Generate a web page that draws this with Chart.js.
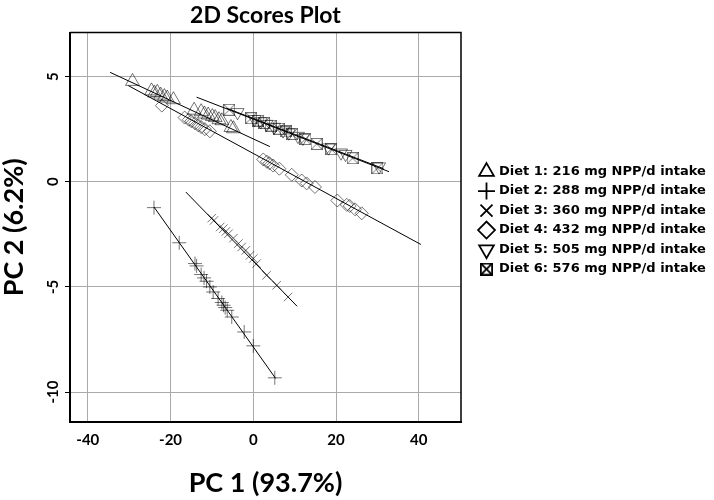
<!DOCTYPE html>
<html>
<head>
<meta charset="utf-8">
<script src="https://cdn.jsdelivr.net/npm/chart.js@4.4.1/dist/chart.umd.min.js"></script>
<style>
  body { margin: 0; background: #fff; }
  #wrap { width: 714px; height: 500px; }
</style>
</head>
<body>
<div id="wrap"><canvas id="grafik" width="714" height="500"></canvas></div>
<script>
// ===== data =====
const dietLabels = [
  "Diet 1: 216 mg NPP/d intake",
  "Diet 2: 288 mg NPP/d intake",
  "Diet 3: 360 mg NPP/d intake",
  "Diet 4: 432 mg NPP/d intake",
  "Diet 5: 505 mg NPP/d intake",
  "Diet 6: 576 mg NPP/d intake"
];

const diet1Pc1 = [-29.2,-24.6,-23.9,-23.2,-22.4,-21.5,-20.8,-19.3,-14.3,-12.6,-11.8,-10.9,-9.9,-9.2,-8.3,-7.6,-5.4,-4.8];
const diet1Pc2 = [4.77,4.32,4.22,4.25,4.12,4.05,3.98,3.90,3.40,3.33,3.22,3.17,3.10,3.05,2.95,2.90,2.58,2.52];

const diet2Pc1 = [-24.0,-17.9,-14.1,-13.7,-12.6,-11.9,-11.3,-10.5,-9.7,-8.5,-7.6,-7.2,-6.8,-6.3,-5.2,-2.2,0.0,5.2];
const diet2Pc2 = [-1.23,-2.90,-3.89,-4.00,-4.41,-4.57,-4.73,-5.00,-5.24,-5.55,-5.74,-5.87,-5.98,-6.11,-6.43,-7.14,-7.80,-9.32];

const diet3Pc1 = [-10.05,-9.5,-8.0,-7.25,-6.6,-6.0,-4.8,-3.6,-2.8,-1.8,-0.8,0.0,0.8,3.2,5.65,8.4];
const diet3Pc2 = [-1.73,-1.84,-2.15,-2.23,-2.36,-2.47,-2.68,-2.94,-3.10,-3.26,-3.50,-3.65,-3.89,-4.45,-4.92,-5.48];

const diet4Pc1 = [-22.1,-16.6,-15.6,-15.0,-14.1,-13.3,-12.6,-11.7,-10.5,2.4,3.3,3.9,4.8,6.3,9.3,11.7,12.9,14.9,20.3,22.6,23.3,24.6,26.2];
const diet4Pc2 = [3.62,3.05,2.95,2.88,2.78,2.68,2.60,2.50,2.40,1.06,0.95,0.88,0.77,0.62,0.33,0.06,-0.08,-0.25,-0.89,-1.10,-1.15,-1.31,-1.50];

const diet5Pc1 = [-3.8,0.3,1.8,3.2,5.0,7.2,8.6,10.8,12.0,18.2,21.2,22.3,30.4];
const diet5Pc2 = [3.30,2.97,2.86,2.74,2.60,2.43,2.33,2.17,2.08,1.62,1.38,1.31,0.72];

const diet6Pc1 = [-5.8,-0.5,1.2,2.6,4.2,6.2,7.8,9.4,12.6,15.3,18.8,24.0,30.0];
const diet6Pc2 = [3.42,3.02,2.91,2.80,2.67,2.52,2.39,2.27,2.03,1.80,1.55,1.12,0.64];

// fitted lines, two end points each
const fitPc1 = [[-34.6, 4.0], [-24.0, 5.4], [-16.3, 10.6], [-30.2, 40.5], [-13.7, 32.8], [-6.5, 31.5]];
const fitPc2 = [[5.2, 1.67], [-1.2, -9.35], [-0.49, -5.92], [4.57, -2.98], [4.02, 0.48], [3.50, 0.62]];

const xTicks = [-40, -20, 0, 20, 40];
const yTicks = [-10, -5, 0, 5];

// ===== helper =====
function zip(xs, ys) {
  return xs.map((x, i) => ({x: x, y: ys[i]}));
}

// boxed cross marker (no built-in style for it)
function boxCross(color, size, lw) {
  const c = document.createElement("canvas");
  c.width = size; c.height = size;
  const g = c.getContext("2d");
  g.strokeStyle = color;
  g.lineWidth = lw;
  const a = lw / 2, b = size - lw / 2;
  g.strokeRect(a, a, b - a, b - a);
  g.beginPath();
  g.moveTo(a, a); g.lineTo(b, b);
  g.moveTo(b, a); g.lineTo(a, b);
  g.stroke();
  return c;
}

const markGrey = "rgba(0,0,0,0.55)";
const boxGrey = boxCross(markGrey, 12, 1);
const boxBlack = boxCross("#000", 13, 1.8);

const styles = [
  {pointStyle: "triangle", radius: 8, rotation: 0},
  {pointStyle: "cross", radius: 7, rotation: 0},
  {pointStyle: "crossRot", radius: 6, rotation: 0},
  {pointStyle: "rectRot", radius: 6.5, rotation: 0},
  {pointStyle: "triangle", radius: 7.5, rotation: 180},
  {pointStyle: boxGrey, radius: 6, rotation: 0}
];

const series = [
  zip(diet1Pc1, diet1Pc2),
  zip(diet2Pc1, diet2Pc2),
  zip(diet3Pc1, diet3Pc2),
  zip(diet4Pc1, diet4Pc2),
  zip(diet5Pc1, diet5Pc2),
  zip(diet6Pc1, diet6Pc2)
];

const datasets = series.map((pts, i) => ({
  label: dietLabels[i],
  data: pts,
  pointStyle: styles[i].pointStyle,
  pointRadius: styles[i].radius,
  pointRotation: styles[i].rotation,
  pointBorderColor: markGrey,
  pointBackgroundColor: "rgba(0,0,0,0)",
  pointBorderWidth: 1
}));

fitPc1.forEach((xs, i) => {
  datasets.push({
    type: "line",
    label: "fit " + (i + 1),
    data: zip(xs, fitPc2[i]),
    borderColor: "#000",
    borderWidth: 1,
    pointRadius: 0,
    fill: false
  });
});

// top and right edge of the box
const frame = {
  id: "frame",
  afterDraw(chart) {
    const a = chart.chartArea, ctx = chart.ctx;
    ctx.save();
    ctx.strokeStyle = "#000";
    ctx.lineWidth = 1.5;
    ctx.beginPath();
    ctx.moveTo(a.left, a.top);
    ctx.lineTo(a.right, a.top);
    ctx.lineTo(a.right, a.bottom);
    ctx.stroke();
    ctx.restore();
  }
};

const tickFont = {family: "Lato", size: 15, weight: "bold"};
const axisFont = {family: "Lato", size: 27, weight: "bold", lineHeight: 1};

new Chart(document.getElementById("grafik"), {
  type: "scatter",
  data: {datasets: datasets},
  plugins: [frame],
  options: {
    responsive: false,
    animation: false,
    layout: {padding: 0},
    scales: {
      x: {
        type: "linear",
        min: -44.3, max: 50.2,
        afterBuildTicks: s => { s.ticks = xTicks.map(v => ({value: v})); },
        afterFit: s => { s.height = 78; },
        ticks: {color: "#000", font: tickFont, padding: 9, maxRotation: 0},
        grid: {color: "#aaa", lineWidth: 1, drawTicks: false},
        border: {color: "#000", width: 2},
        title: {display: true, text: "PC 1 (93.7%)", color: "#000", font: axisFont, padding: {top: 0, bottom: 3}}
      },
      y: {
        type: "linear",
        min: -11.42, max: 7.09,
        afterBuildTicks: s => { s.ticks = yTicks.map(v => ({value: v})); },
        afterFit: s => { s.width = 70; },
        ticks: {color: "#000", font: tickFont, padding: 0, minRotation: 90, maxRotation: 90, crossAlign: "center"},
        grid: {color: "#aaa", lineWidth: 1, tickColor: "#000", tickLength: 5},
        border: {color: "#000", width: 2},
        title: {display: true, text: "PC 2 (6.2%)", color: "#000", font: axisFont, padding: {top: 1, bottom: 0}}
      },
      gap: {
        type: "linear",
        position: "right",
        display: true,
        afterFit: s => { s.width = 13; },
        ticks: {display: false},
        grid: {display: false},
        border: {display: false}
      }
    },
    plugins: {
      title: {
        display: true,
        fullSize: false,
        text: "2D Scores Plot",
        color: "#000",
        font: {family: "Lato", size: 23, weight: "bold", lineHeight: 1.2},
        padding: {top: 2, bottom: 3}
      },
      legend: {
        position: "right",
        align: "start",
        fullSize: false,
        maxWidth: 240,
        title: {display: true, text: "", font: {size: 10, lineHeight: 1.2}, padding: 57},
        labels: {
          usePointStyle: true,
          boxWidth: 12,
          boxHeight: 12,
          padding: 6.5,
          color: "#000",
          font: {family: "DejaVu Sans", size: 13, weight: "bold"},
          filter: item => item.datasetIndex < 6,
          generateLabels: chart => {
            const items = Chart.defaults.plugins.legend.labels.generateLabels(chart);
            items.forEach(it => {
              it.strokeStyle = "#000";
              it.fillStyle = "rgba(0,0,0,0)";
              it.lineWidth = 1.8;
              if (it.datasetIndex === 5) it.pointStyle = boxBlack;
            });
            return items;
          }
        }
      },
      tooltip: {enabled: false}
    }
  }
});
</script>
</body>
</html>
